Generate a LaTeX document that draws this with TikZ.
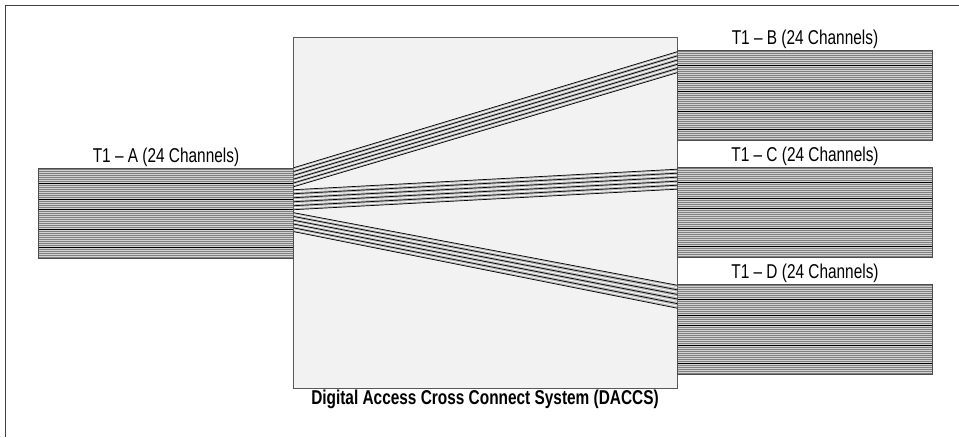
\documentclass[tikz,border=0pt]{standalone}
\usepackage{fontspec}
\setmainfont[FakeStretch=0.77]{Liberation Sans}
\usepackage{tikz}
\usetikzlibrary{positioning,calc}
\definecolor{boxgray}{rgb}{0.95, 0.95, 0.95}
\definecolor{wiregray}{rgb}{0.5, 0.5, 0.5}

\tikzset{
    trunk/.style={
        draw=black!70,
        fill=wiregray,
        line width=0.6pt,
        inner sep=0pt,
        minimum width=255pt,
        minimum height=90pt,
        path picture={
            \foreach \k in {1,...,44} {
                \draw[gray!35, line width=0.7pt]
                    ([yshift=\k*2pt]path picture bounding box.south west) --
                    ([yshift=\k*2pt]path picture bounding box.south east);
            }
            \foreach \k in {5,14,24,29,37} {
                \draw[black, line width=0.7pt]
                    ([yshift=\k*2pt+1pt]path picture bounding box.south west) --
                    ([yshift=\k*2pt+1pt]path picture bounding box.south east);
            }
        }
    },
    chan/.style={font=\fontsize{20}{23}\selectfont, inner sep=1pt}
}

\begin{document}
\begin{tikzpicture}[x=1pt, y=-1pt]
    \useasboundingbox (0,0) rectangle (959,437);
    \draw[black!75, line width=1.2pt] (5.5,437) -- (5.5,5.5) -- (959,5.5);

    \node(daccs)[
        draw=black!65,
        fill=boxgray,
        line width=1pt,
        minimum width=384pt,
        minimum height=351pt,
        label={[chan, font=\fontsize{20}{23}\selectfont\bfseries]below:Digital Access Cross Connect System (DACCS)}
    ] at (485,212.5) {};

    \node(t1a)[trunk, label={[chan]above:T1 – A (24 Channels)}] at (166,213) {};
    \node(t1b)[trunk, label={[chan]above:T1 – B (24 Channels)}] at (805,95) {};
    \node(t1c)[trunk, label={[chan]above:T1 – C (24 Channels)}] at (805,212.5) {};
    \node(t1d)[trunk, label={[chan]above:T1 – D (24 Channels)}] at (805,329.5) {};

    % six channels fanned out to each trunk
    \foreach \dst/\ls/\rs/\lstep/\rstep in {t1b/0/2/3.8/4.2, t1c/22/2/4/4, t1d/45/1/3.8/4.6} {
        \fill[gray!55] ($(t1a.north east)+(0,\ls)$) -- ($(\dst.north west)+(0,\rs)$)
            -- ($(\dst.north west)+(0,\rs+5*\rstep)$) -- ($(t1a.north east)+(0,\ls+5*\lstep)$) -- cycle;
        \foreach \k in {0,...,4}
            \draw[white, line width=0.9pt] ($(t1a.north east)+(0,\ls+\k*\lstep+0.5*\lstep)$)
                -- ($(\dst.north west)+(0,\rs+\k*\rstep+0.5*\rstep)$);
        \foreach \k in {0,...,5}
            \draw[black, line width=0.7pt] ($(t1a.north east)+(0,\ls+\k*\lstep)$)
                -- ($(\dst.north west)+(0,\rs+\k*\rstep)$);
    }
\end{tikzpicture}
\end{document}
